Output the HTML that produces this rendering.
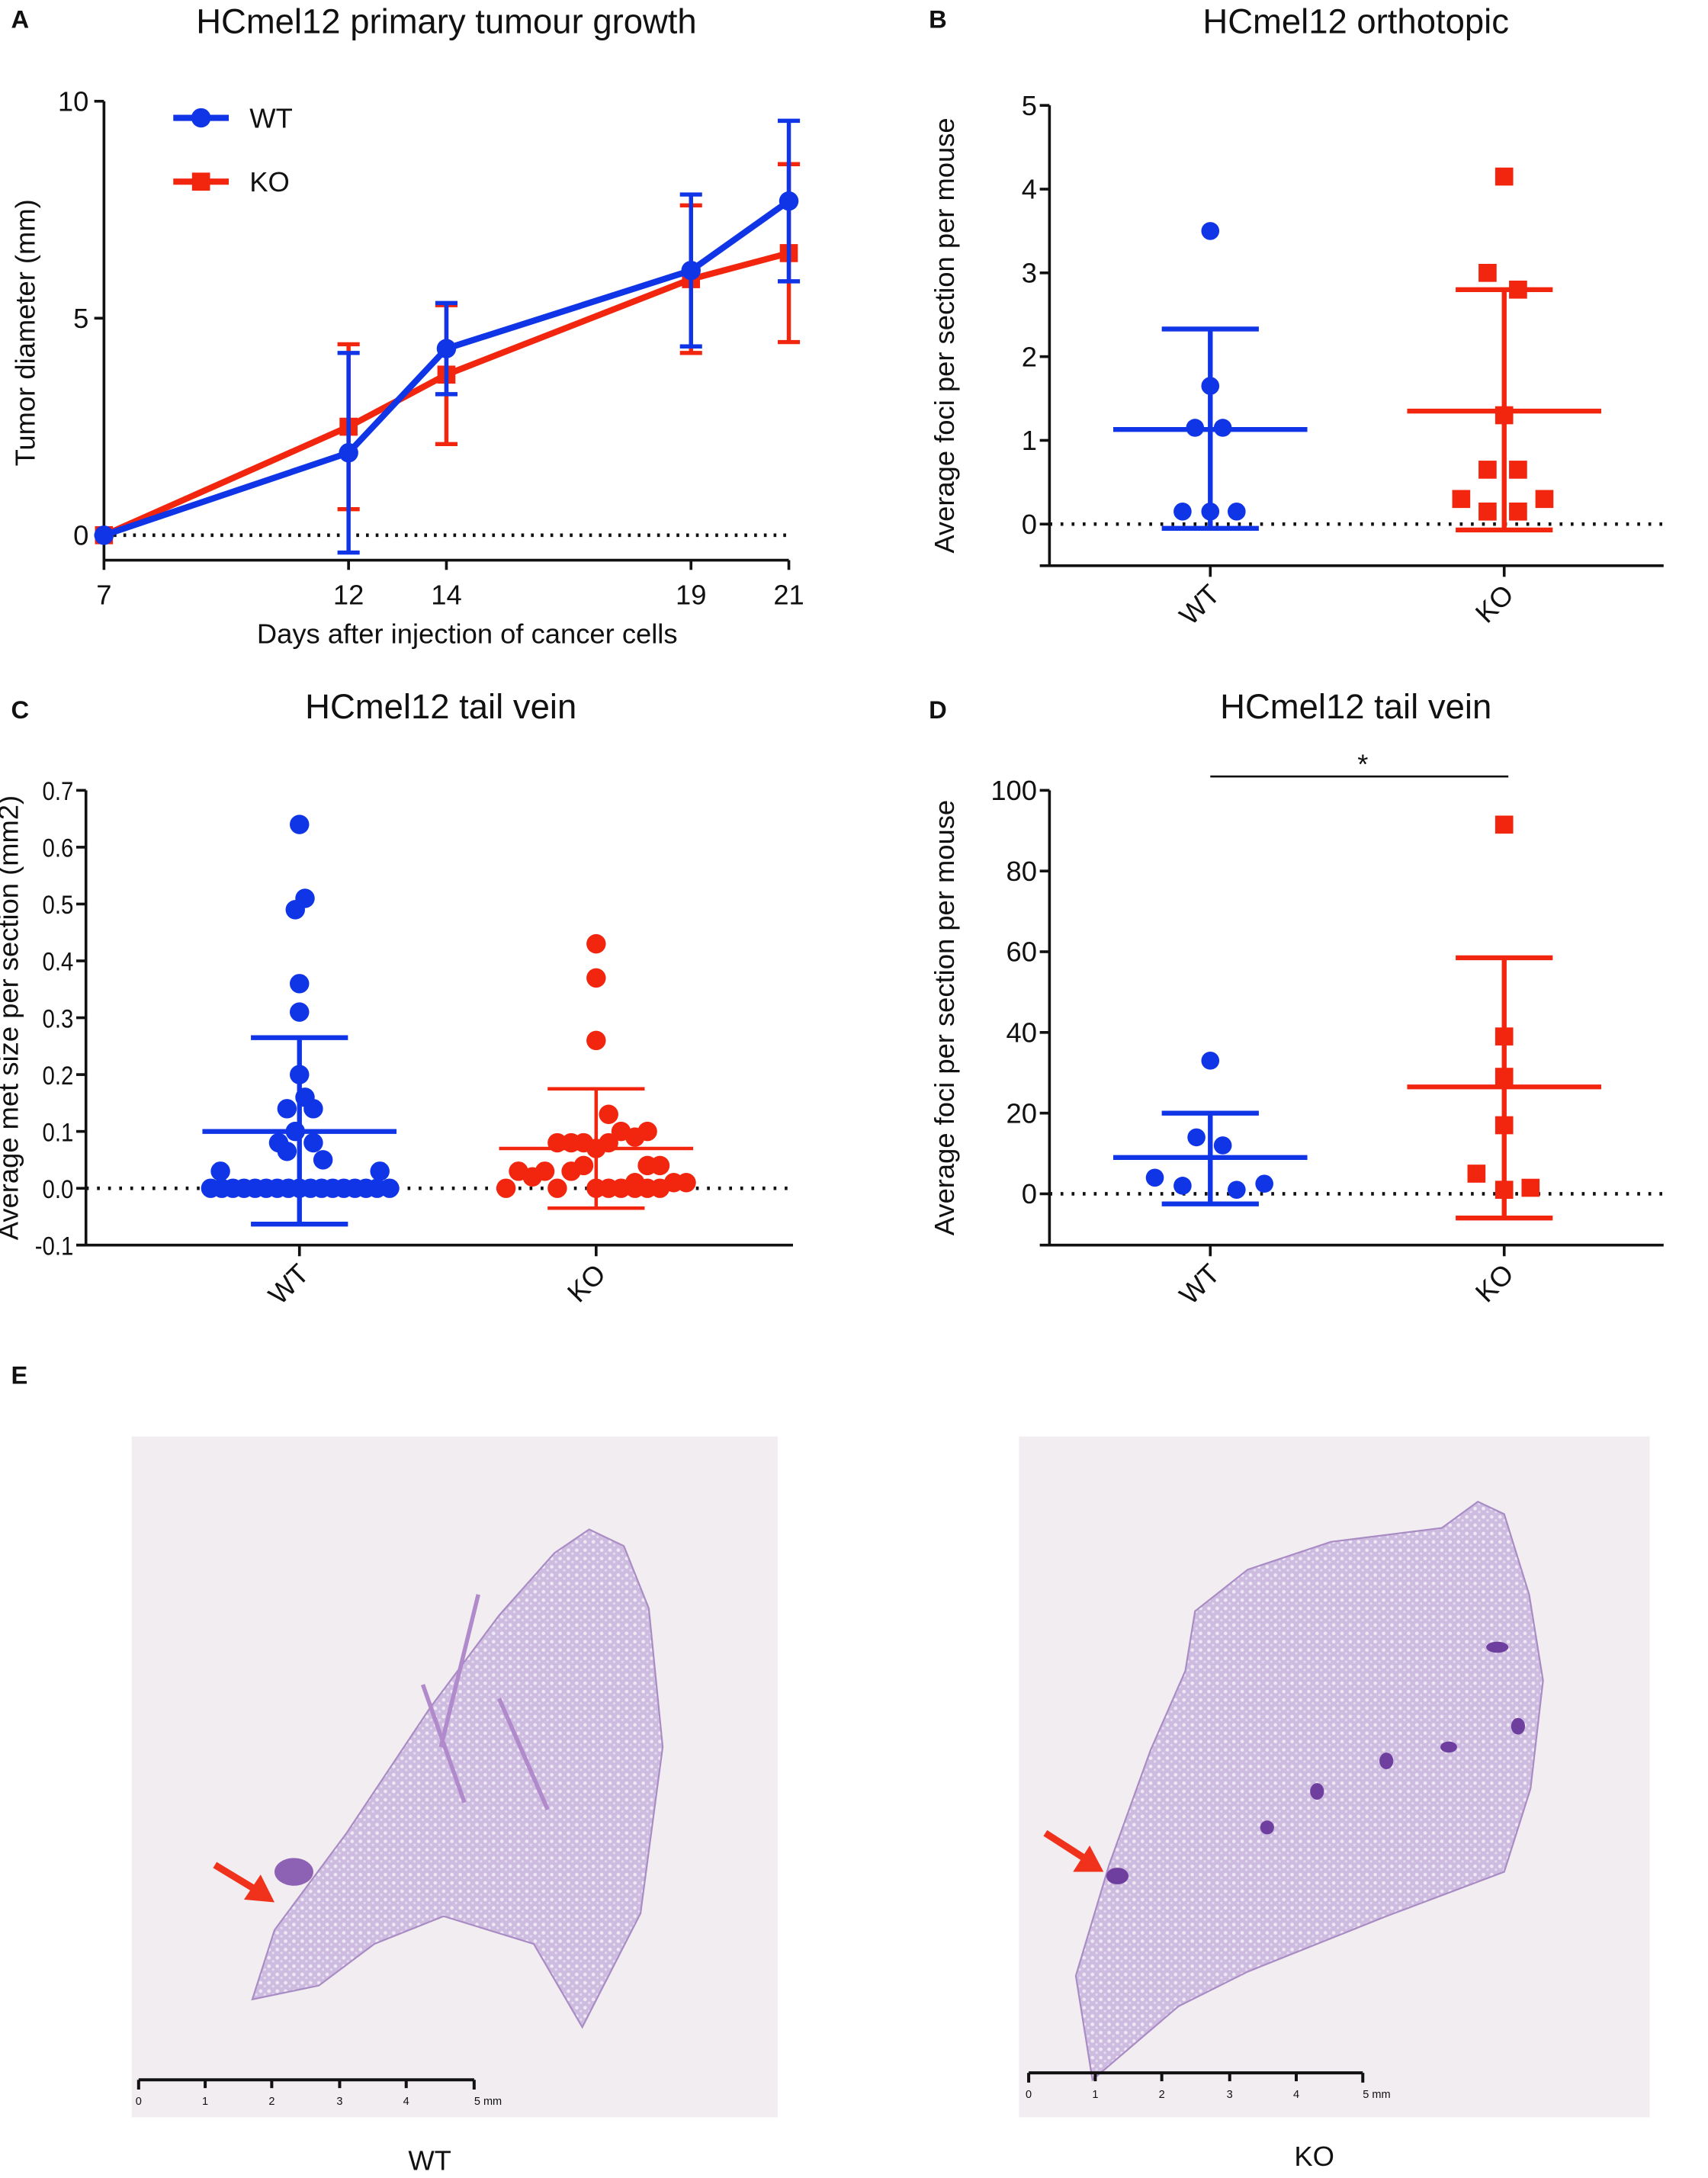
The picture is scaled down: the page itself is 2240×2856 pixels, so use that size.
<!DOCTYPE html>
<html><head><meta charset="utf-8"><style>
html,body{margin:0;padding:0;background:#fff;}
svg{display:block;}
text{font-family:"Liberation Sans",sans-serif;fill:#111;}
</style></head><body>
<svg id="fig" width="2240" height="2856" viewBox="0 0 1232 1570.8" xmlns="http://www.w3.org/2000/svg">
<defs>
<pattern id="tissue" width="6" height="6" patternUnits="userSpaceOnUse">
<rect width="6" height="6" fill="#cdbbe0"/>
<circle cx="2" cy="2" r="1.3" fill="#efe8f4"/>
<circle cx="5" cy="4.5" r="0.9" fill="#e6dcef"/>
</pattern>
</defs>
<g id="A"></g>
<g id="B"></g>
<g id="C"></g>
<g id="D"></g>
<g id="E">
<text x="8" y="998" font-weight="bold" font-size="18">E</text>
<rect x="95" y="1036" width="466" height="491" fill="#f1edf0"/>
<path d="M182,1442 L198,1392 L250,1322 L310,1232 L360,1165 L400,1120 L425,1103 L450,1115 L468,1160 L478,1260 L462,1380 L420,1462 L385,1402 L320,1382 L270,1402 L230,1432 Z" fill="url(#tissue)" stroke="#a98cc4" stroke-width="1.2"/>
<path d="M305,1215 L335,1300 M345,1150 L318,1260 M360,1225 L395,1305" stroke="#b08acb" stroke-width="3" fill="none"/>
<ellipse cx="212" cy="1350" rx="14" ry="10" fill="#8d62b5"/>
<path d="M155,1345 L188,1365" stroke="#f0321c" stroke-width="5"/>
<polygon points="198,1372 176,1370 188,1352" fill="#f0321c"/>
<g>
<path d="M100,1500 L342,1500 M100,1500 V1507 M148,1500 V1506 M196,1500 V1506 M245,1500 V1506 M293,1500 V1506 M342,1500 V1507" stroke="#111" stroke-width="2.2" fill="none"/>
<text x="100" y="1518" font-size="8" text-anchor="middle">0</text><text x="148" y="1518" font-size="8" text-anchor="middle">1</text><text x="196" y="1518" font-size="8" text-anchor="middle">2</text><text x="245" y="1518" font-size="8" text-anchor="middle">3</text><text x="293" y="1518" font-size="8" text-anchor="middle">4</text><text x="352" y="1518" font-size="8" text-anchor="middle">5 mm</text>
</g>
<text x="310" y="1565" font-size="20" text-anchor="middle">WT</text>
<rect x="735" y="1036" width="455" height="491" fill="#f1edf0"/>
<path d="M788,1500 L776,1425 L800,1345 L830,1262 L855,1205 L862,1162 L900,1132 L960,1112 L1040,1102 L1066,1083 L1085,1092 L1103,1150 L1113,1212 L1104,1290 L1085,1350 L1000,1382 L900,1422 L850,1447 Z" fill="url(#tissue)" stroke="#a98cc4" stroke-width="1.2"/>
<g fill="#6e3f9e"><ellipse cx="1080" cy="1188" rx="8" ry="4"/><ellipse cx="1095" cy="1245" rx="5" ry="6"/><ellipse cx="1000" cy="1270" rx="5" ry="6"/><ellipse cx="1045" cy="1260" rx="6" ry="4"/><ellipse cx="950" cy="1292" rx="5" ry="6"/><ellipse cx="914" cy="1318" rx="5" ry="5"/></g>
<ellipse cx="806" cy="1353" rx="8" ry="6" fill="#6e3f9e"/>
<path d="M754,1322 L785,1342" stroke="#f0321c" stroke-width="5"/>
<polygon points="796,1350 774,1350 786,1331" fill="#f0321c"/>
<g>
<path d="M742,1495 L983,1495 M742,1495 V1502 M790,1495 V1501 M838,1495 V1501 M887,1495 V1501 M935,1495 V1501 M983,1495 V1502" stroke="#111" stroke-width="2.2" fill="none"/>
<text x="742" y="1513" font-size="8" text-anchor="middle">0</text><text x="790" y="1513" font-size="8" text-anchor="middle">1</text><text x="838" y="1513" font-size="8" text-anchor="middle">2</text><text x="887" y="1513" font-size="8" text-anchor="middle">3</text><text x="935" y="1513" font-size="8" text-anchor="middle">4</text><text x="993" y="1513" font-size="8" text-anchor="middle">5 mm</text>
</g>
<text x="948" y="1562" font-size="20" text-anchor="middle">KO</text>
</g>
</svg>
<script>
// ---------- data ----------
const daysA = [7, 12, 14, 19, 21];
const wtMeanA = [0, 1.9, 4.3, 6.1, 7.7];
const wtSdA = [0, 2.3, 1.05, 1.75, 1.85];
const koMeanA = [0, 2.5, 3.7, 5.9, 6.5];
const koSdA = [0, 1.9, 1.6, 1.7, 2.05];
const ticksA = [0, 5, 10];

const wtB = [3.5, 1.65, 1.15, 1.15, 0.15, 0.15, 0.15];
const koB = [4.15, 3.0, 2.8, 1.3, 0.65, 0.65, 0.3, 0.3, 0.15, 0.15];
const wtStatB = [1.13, 2.33, -0.05];
const koStatB = [1.35, 2.8, -0.07];
const ticksB = [0, 1, 2, 3, 4, 5];

const wtC = [0.64,0.51,0.49,0.36,0.31,0.2,0.16,0.14,0.14,0.1,0.08,0.08,0.065,0.05,0.03,0.03,0,0,0,0,0,0,0,0,0,0,0,0,0,0,0,0,0];
const koC = [0.43,0.37,0.26,0.13,0.1,0.1,0.09,0.08,0.08,0.08,0.08,0.07,0.04,0.04,0.04,0.03,0.03,0.03,0.02,0.01,0.01,0.01,0,0,0,0,0,0,0,0];
const wtStatC = [0.1, 0.265, -0.063];
const koStatC = [0.07, 0.175, -0.035];
const ticksC = [-0.1,0,0.1,0.2,0.3,0.4,0.5,0.6,0.7];

const wtD = [33, 14, 12, 4, 2, 1, 2.5];
const koD = [91.5, 39, 29, 17, 5, 1, 1.5];
const wtStatD = [9, 20, -2.5];
const koStatD = [26.5, 58.5, -6];
const ticksD = [0, 20, 40, 60, 80, 100];

// horizontal jitter offsets (layout, px) for scatter points
const wtJitB=[0,0,-11,9,-20,0,19], koJitB=[0,-12,10,0,-12,10,-31,29,-12,10];
const wtJitC=[0,4,-3,0,0,0,4,-9,10,-3,-15,10,-9,17,-57,58,-64,-56,-48,-40,-32,-24,-16,-8,0,8,16,24,32,40,48,56,65];
const koJitC=[0,0,0,9,18,37,28,-28,-18,-9,9,0,-9,37,46,-56,-37,-18,-46,28,56,65,-65,-28,0,9,18,28,37,46];
const wtJitD=[0,-10,9,-40,-20,19,39], koJitD=[0,0,0,0,-20,0,19];

const NS="http://www.w3.org/2000/svg";
function mk(parent, tag, attrs, txt){const e=document.createElementNS(NS,tag);for(const k in attrs)e.setAttribute(k,attrs[k]);if(txt!==undefined)e.textContent=txt;parent.appendChild(e);return e;}
function lin(d0,d1,r0,r1){return v=>r0+(v-d0)/(d1-d0)*(r1-r0);}
const BLUE="#1035e6", RED="#f2250f";

// ---------- Panel A ----------
(function(){
const g=document.getElementById('A');
const x=lin(7,21,75,569), y=lin(0,10,386,73);
let t=mk(g,'text',{x:8,y:20,'font-weight':'bold','font-size':18});t.textContent='A';

t=mk(g,'text',{x:322,y:24,'font-size':25,'text-anchor':'middle'},'HCmel12 primary tumour growth');

let ax=mk(g,'path',{d:`M75,${y(10)} V404 M75,404 H569`,stroke:'#111','stroke-width':2,fill:'none'});

ticksA.forEach(v=>{mk(g,'path',{d:`M68,${y(v)} H75`,stroke:'#111','stroke-width':2});
 const l=mk(g,'text',{x:64,y:y(v)+7,'font-size':20,'text-anchor':'end'},String(v));
 });
daysA.forEach(d=>{mk(g,'path',{d:`M${x(d)},404 V411`,stroke:'#111','stroke-width':2});
 const l=mk(g,'text',{x:x(d),y:436,'font-size':20,'text-anchor':'middle'},String(d));
 });
mk(g,'path',{d:`M75,${y(0)} H572`,stroke:'#111','stroke-width':2.5,'stroke-dasharray':'2 5'});
t=mk(g,'text',{x:337,y:464,'font-size':20,'text-anchor':'middle'},'Days after injection of cancer cells');

t=mk(g,'text',{x:25,y:240,'font-size':20,'text-anchor':'middle',transform:'rotate(-90 25 240)'},'Tumor diameter (mm)');

[[koMeanA,koSdA,RED,'ko','sq'],[wtMeanA,wtSdA,BLUE,'wt','ci']].forEach(([m,s,c,n,shape])=>{
 const sg=mk(g,'g',{});
 daysA.forEach((d,i)=>{if(s[i]>0){const eb=mk(sg,'path',{d:`M${x(d)},${y(m[i]+s[i])} V${y(m[i]-s[i])} M${x(d)-8},${y(m[i]+s[i])} h16 M${x(d)-8},${y(m[i]-s[i])} h16`,stroke:c,'stroke-width':3,fill:'none'});
  }});
 const ln=mk(sg,'polyline',{points:daysA.map((d,i)=>x(d)+','+y(m[i])).join(' '),stroke:c,'stroke-width':4.5,fill:'none'});
 
 daysA.forEach((d,i)=>{let p; if(shape==='ci')p=mk(sg,'circle',{cx:x(d),cy:y(m[i]),r:7,fill:c});else p=mk(sg,'rect',{x:x(d)-6.5,y:y(m[i])-6.5,width:13,height:13,fill:c});
  });
});
const lg=mk(g,'g',{});
mk(lg,'path',{d:'M125,85 H165',stroke:BLUE,'stroke-width':4.5});mk(lg,'circle',{cx:145,cy:85,r:7,fill:BLUE});
mk(lg,'text',{x:180,y:92,'font-size':20},'WT');
mk(lg,'path',{d:'M125,131 H165',stroke:RED,'stroke-width':4.5});mk(lg,'rect',{x:138.5,y:124.5,width:13,height:13,fill:RED});
mk(lg,'text',{x:180,y:138,'font-size':20},'KO');
})();

// ---------- dot plot helper ----------
function dotPanel(id,letter,title,ylabel,ticks,lo,hi,yTop,yBot,axisY,x0,x1,groups,fmt,tickFs,titleX){
const g=document.getElementById(id);
const y=lin(lo,hi,yBot,yTop);
let t=mk(g,'text',{x:(id==='B'||id==='D')?670:8,y:id==='B'?20:518,'font-weight':'bold','font-size':18},letter);

t=mk(g,'text',{x:(id==='B'||id==='D')?978:318,y:id==='B'?24:518,'font-size':25,'text-anchor':'middle'},title);

const ax=mk(g,'path',{d:`M${x0},${yTop} V${axisY} M${x0-7},${axisY} H${x1}`,stroke:'#111','stroke-width':2,fill:'none'});

ticks.forEach(v=>{mk(g,'path',{d:`M${x0-7},${y(v)} H${x0}`,stroke:'#111','stroke-width':2});
 const l=mk(g,'text',{x:x0-9,y:y(v)+7,'font-size':tickFs,'text-anchor':'end'},fmt(v));
 if(id==='C'){l.setAttribute('transform',`translate(${x0-9},0) scale(0.85,1) translate(${-(x0-9)},0)`);}
 });
mk(g,'path',{d:`M${x0},${y(0)} H${x1}`,stroke:'#111','stroke-width':2.5,'stroke-dasharray':'2 6'});
const yc=(yTop+axisY)/2;
t=mk(g,'text',{x:titleX,y:yc,'font-size':20,'text-anchor':'middle',transform:`rotate(-90 ${titleX} ${yc})`},ylabel);

groups.forEach(gr=>{
 const cx=gr.cx;
 mk(g,'path',{d:`M${cx},${axisY} V${axisY+8}`,stroke:'#111','stroke-width':2});
 const l=mk(g,'text',{x:cx+8,y:axisY+22,'font-size':20,'text-anchor':'end',transform:`rotate(-45 ${cx+8} ${axisY+22})`},gr.name);
 
 const sg=mk(g,'g',{});
 const [m,u,d]=gr.stat;
 const eb=mk(sg,'path',{d:`M${cx},${y(u)} V${y(d)} M${cx-gr.cap},${y(u)} h${2*gr.cap} M${cx-gr.cap},${y(d)} h${2*gr.cap}`,stroke:gr.c,'stroke-width':gr.sw,fill:'none'});
 
 const mb=mk(sg,'path',{d:`M${cx-gr.mw},${y(m)} h${2*gr.mw}`,stroke:gr.c,'stroke-width':gr.sw});
 
 gr.vals.forEach((v,i)=>{const px=cx+gr.jit[i];let p;
  if(gr.shape==='ci')p=mk(sg,'circle',{cx:px,cy:y(v),r:gr.r,fill:gr.c});
  else p=mk(sg,'rect',{x:px-gr.r,y:y(v)-gr.r,width:2*gr.r,height:2*gr.r,fill:gr.c});
  });
});
return y;
}
dotPanel('B','B','HCmel12 orthotopic','Average foci per section per mouse',ticksB,0,5,76,378,408,757,1200,
 [{name:'WT',cx:873,vals:wtB,jit:wtJitB,stat:wtStatB,c:BLUE,shape:'ci',r:6.5,cap:35,mw:70,sw:3.5},
  {name:'KO',cx:1085,vals:koB,jit:koJitB,stat:koStatB,c:RED,shape:'sq',r:6.5,cap:35,mw:70,sw:3.5}],v=>String(v),20,688);
dotPanel('C','C','HCmel12 tail vein','Average met size per section (mm2)',ticksC,-0.1,0.7,570,898,898,62,572,
 [{name:'WT',cx:216,vals:wtC,jit:wtJitC,stat:wtStatC,c:BLUE,shape:'ci',r:7,cap:35,mw:70,sw:3.5},
  {name:'KO',cx:430,vals:koC,jit:koJitC,stat:koStatC,c:RED,shape:'ci',r:7,cap:35,mw:70,sw:2.5}],v=>v.toFixed(1),19,13);
dotPanel('D','D','HCmel12 tail vein','Average foci per section per mouse',ticksD,0,100,570,861,898,757,1200,
 [{name:'WT',cx:873,vals:wtD,jit:wtJitD,stat:wtStatD,c:BLUE,shape:'ci',r:6.5,cap:35,mw:70,sw:3.5},
  {name:'KO',cx:1085,vals:koD,jit:koJitD,stat:koStatD,c:RED,shape:'sq',r:6.5,cap:35,mw:70,sw:3.5}],v=>String(v),20,688);
(function(){const g=document.getElementById('D');
const s=mk(g,'path',{d:'M873,560 H1088',stroke:'#111','stroke-width':1.5});

const a=mk(g,'text',{x:983,y:558,'font-size':20,'text-anchor':'middle'},'*');
})();
</script>
</body></html>
